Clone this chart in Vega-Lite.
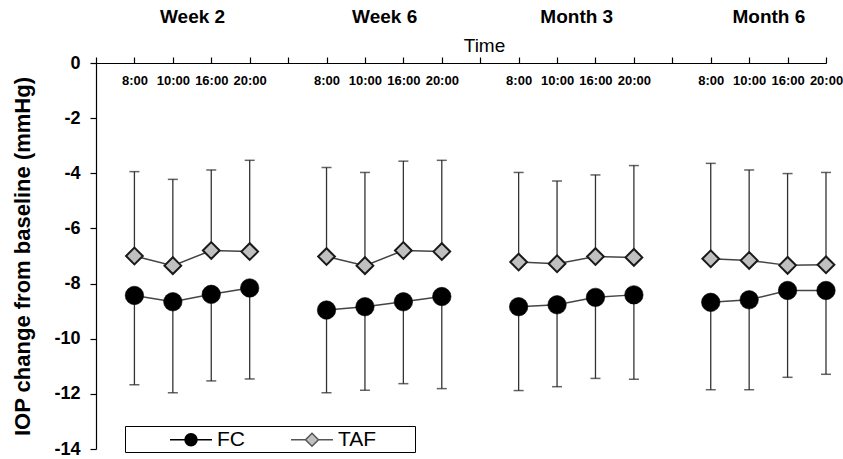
{
  "$schema": "https://vega.github.io/schema/vega-lite/v6.json",
  "width": 730,
  "height": 386,
  "autosize": {"type": "none"},
  "padding": {"left": 96, "top": 63, "right": 17, "bottom": 10},
  "background": "white",
  "config": {
    "view": {"stroke": null},
    "font": "Liberation Sans",
    "axis": {"grid": false, "domainColor": "#000", "tickColor": "#000", "labelColor": "#000", "titleColor": "#000", "labelFont": "Liberation Sans", "titleFont": "Liberation Sans", "domainWidth": 1.2, "tickWidth": 1.2}
  },
  "data": {
    "values": [
      {"series": "FC", "group": "Week 2", "time": "8:00", "mean": -8.43, "bar_end": -11.67},
      {"series": "FC", "group": "Week 2", "time": "10:00", "mean": -8.66, "bar_end": -11.96},
      {"series": "FC", "group": "Week 2", "time": "16:00", "mean": -8.39, "bar_end": -11.53},
      {"series": "FC", "group": "Week 2", "time": "20:00", "mean": -8.16, "bar_end": -11.46},
      {"series": "FC", "group": "Week 6", "time": "8:00", "mean": -8.96, "bar_end": -11.96},
      {"series": "FC", "group": "Week 6", "time": "10:00", "mean": -8.84, "bar_end": -11.87},
      {"series": "FC", "group": "Week 6", "time": "16:00", "mean": -8.66, "bar_end": -11.63},
      {"series": "FC", "group": "Week 6", "time": "20:00", "mean": -8.47, "bar_end": -11.81},
      {"series": "FC", "group": "Month 3", "time": "8:00", "mean": -8.84, "bar_end": -11.88},
      {"series": "FC", "group": "Month 3", "time": "10:00", "mean": -8.77, "bar_end": -11.74},
      {"series": "FC", "group": "Month 3", "time": "16:00", "mean": -8.5, "bar_end": -11.44},
      {"series": "FC", "group": "Month 3", "time": "20:00", "mean": -8.41, "bar_end": -11.47},
      {"series": "FC", "group": "Month 6", "time": "8:00", "mean": -8.68, "bar_end": -11.85},
      {"series": "FC", "group": "Month 6", "time": "10:00", "mean": -8.59, "bar_end": -11.85},
      {"series": "FC", "group": "Month 6", "time": "16:00", "mean": -8.25, "bar_end": -11.4},
      {"series": "FC", "group": "Month 6", "time": "20:00", "mean": -8.25, "bar_end": -11.29},
      {"series": "TAF", "group": "Week 2", "time": "8:00", "mean": -7.0, "bar_end": -3.94},
      {"series": "TAF", "group": "Week 2", "time": "10:00", "mean": -7.35, "bar_end": -4.22},
      {"series": "TAF", "group": "Week 2", "time": "16:00", "mean": -6.8, "bar_end": -3.88},
      {"series": "TAF", "group": "Week 2", "time": "20:00", "mean": -6.84, "bar_end": -3.53},
      {"series": "TAF", "group": "Week 6", "time": "8:00", "mean": -7.02, "bar_end": -3.79},
      {"series": "TAF", "group": "Week 6", "time": "10:00", "mean": -7.35, "bar_end": -3.97},
      {"series": "TAF", "group": "Week 6", "time": "16:00", "mean": -6.8, "bar_end": -3.56},
      {"series": "TAF", "group": "Week 6", "time": "20:00", "mean": -6.84, "bar_end": -3.53},
      {"series": "TAF", "group": "Month 3", "time": "8:00", "mean": -7.22, "bar_end": -3.97},
      {"series": "TAF", "group": "Month 3", "time": "10:00", "mean": -7.28, "bar_end": -4.28},
      {"series": "TAF", "group": "Month 3", "time": "16:00", "mean": -7.02, "bar_end": -4.06},
      {"series": "TAF", "group": "Month 3", "time": "20:00", "mean": -7.05, "bar_end": -3.72},
      {"series": "TAF", "group": "Month 6", "time": "8:00", "mean": -7.1, "bar_end": -3.64},
      {"series": "TAF", "group": "Month 6", "time": "10:00", "mean": -7.16, "bar_end": -3.88},
      {"series": "TAF", "group": "Month 6", "time": "16:00", "mean": -7.34, "bar_end": -4.01},
      {"series": "TAF", "group": "Month 6", "time": "20:00", "mean": -7.32, "bar_end": -3.97}
    ]
  },
  "transform": [{"calculate": "datum.group + ' ' + datum.time", "as": "slot"}],
  "layer": [
    {
      "encoding": {
        "x": {
          "field": "slot",
          "type": "nominal",
          "scale": {
            "type": "point",
            "padding": 0,
            "domain": ["gap0", "Week 2 8:00", "Week 2 10:00", "Week 2 16:00", "Week 2 20:00", "gap1", "Week 6 8:00", "Week 6 10:00", "Week 6 16:00", "Week 6 20:00", "gap2", "Month 3 8:00", "Month 3 10:00", "Month 3 16:00", "Month 3 20:00", "gap3", "Month 6 8:00", "Month 6 10:00", "Month 6 16:00", "Month 6 20:00"]
          },
          "axis": {
            "orient": "top",
            "title": "Time",
            "titleFontSize": 19,
            "titleFontWeight": "normal",
            "titleX": 388,
            "titleY": -12,
            "titleBaseline": "alphabetic",
            "titleAlign": "center",
            "labelExpr": "indexof(datum.value, 'gap') === 0 ? '' : split(datum.value, ' ')[2]",
            "labelFontSize": 13,
            "labelFontWeight": "bold",
            "labelAngle": 0,
            "labelPadding": -30,
            "labelOverlap": false,
            "tickSize": 6
          }
        }
      },
      "layer": [
        {
          "mark": {"type": "rule", "color": "#333", "strokeWidth": 1.3},
          "encoding": {
            "y": {
              "field": "mean",
              "type": "quantitative",
              "title": "IOP change from baseline (mmHg)",
              "scale": {"domain": [-14, 0], "nice": false, "zero": false},
              "axis": {
                "orient": "left",
                "values": [-14, -13, -12, -11, -10, -9, -8, -7, -6, -5, -4, -3, -2, -1, 0],
                "labelExpr": "datum.value % 2 === 0 ? '' + datum.value : ''",
                "labelFontSize": 18,
                "labelFontWeight": "bold",
                "labelPadding": 10,
                "tickSize": 6,
                "titleFontSize": 22,
                "titleFontWeight": "bold",
                "titleX": -74,
                "titleY": 193,
                "titleAngle": -90,
                "titleAlign": "center",
                "titleBaseline": "middle"
              }
            },
            "y2": {"field": "bar_end"}
          }
        },
        {
          "mark": {"type": "tick", "color": "#222", "thickness": 1.5, "size": 10},
          "encoding": {
            "y": {"field": "bar_end", "type": "quantitative", "title": "IOP change from baseline (mmHg)"}
          }
        },
        {
          "mark": {"type": "line", "color": "#444", "strokeWidth": 1.5},
          "encoding": {
            "y": {"field": "mean", "type": "quantitative", "title": "IOP change from baseline (mmHg)"},
            "detail": [{"field": "series"}, {"field": "group"}]
          }
        },
        {
          "transform": [{"filter": "datum.series === 'FC'"}],
          "mark": {"type": "point", "shape": "circle", "filled": true, "size": 340, "stroke": "#000", "strokeWidth": 0.6, "opacity": 1},
          "encoding": {
            "y": {"field": "mean", "type": "quantitative", "title": "IOP change from baseline (mmHg)"},
            "fill": {
              "field": "series",
              "type": "nominal",
              "scale": {"domain": ["FC", "TAF"], "range": ["#000000", "#c0c0c0"]},
              "legend": {
                "title": "\u00a0",
                "titleOrient": "right",
                "titlePadding": 37,
                "orient": "none",
                "legendX": 29,
                "legendY": 363,
                "direction": "horizontal",
                "columns": 2,
                "columnPadding": 3,
                "padding": 2,
                "strokeColor": "#000",
                "symbolSize": 441,
                "symbolStrokeWidth": 1.5,
                "symbolOffset": 52.5,
                "labelOffset": 14.5,
                "labelFontSize": 21,
                "labelFont": "Liberation Sans",
                "labelColor": "#000",
                "encoding": {
                  "symbols": {
                    "shape": {"condition": {"test": "datum.value === 'FC'", "value": "M-2,0L2,0M0.571,0A0.571,0.571,0,1,1,-0.571,0A0.571,0.571,0,1,1,0.571,0Z"}, "value": "M-2,0L-0.62,0M0.62,0L2,0M-0.62,0L0,-0.62L0.62,0L0,0.62Z"},
                    "stroke": {"condition": {"test": "datum.value === 'FC'", "value": "#000"}, "value": "#555"},
                    "strokeWidth": {"value": 1.5}
                  }
                }
              }
            }
          }
        },
        {
          "transform": [{"filter": "datum.series === 'TAF'"}],
          "mark": {"type": "point", "shape": "diamond", "filled": true, "size": 280, "stroke": "#1a1a1a", "strokeWidth": 2, "opacity": 1},
          "encoding": {
            "y": {"field": "mean", "type": "quantitative", "title": "IOP change from baseline (mmHg)"},
            "fill": {"field": "series", "type": "nominal", "scale": {"domain": ["FC", "TAF"], "range": ["#000000", "#c0c0c0"]}}
          }
        }
      ]
    },
    {
      "mark": {"type": "rule", "strokeOpacity": 0},
      "encoding": {
        "x": {
          "field": "group",
          "type": "nominal",
          "scale": {"type": "point", "domain": ["Week 2", "Week 6", "Month 3", "Month 6"], "padding": 0.4, "align": 0.625},
          "axis": {
            "orient": "top",
            "title": null,
            "domain": false,
            "ticks": false,
            "tickSize": 0,
            "labelPadding": 37,
            "labelFontSize": 19,
            "labelFontWeight": "bold",
            "labelAngle": 0,
            "labelOverlap": false
          }
        }
      }
    }
  ],
  "resolve": {"scale": {"x": "independent"}, "axis": {"x": "independent"}}
}
